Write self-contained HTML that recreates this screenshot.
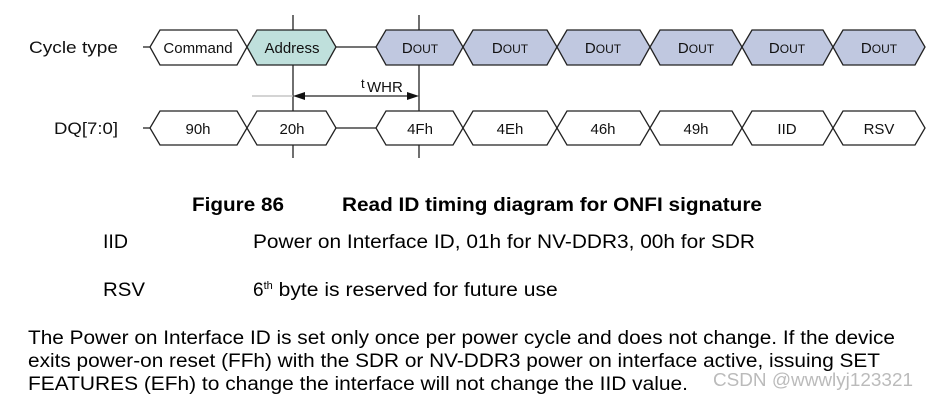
<!DOCTYPE html>
<html><head><meta charset="utf-8"><style>body{margin:0;background:#fff}svg{display:block}</style></head><body>
<svg width="926" height="400" xmlns="http://www.w3.org/2000/svg" font-family="Liberation Sans, sans-serif">
<g stroke="#222" stroke-width="1.3" fill="none">
<line x1="293" y1="15" x2="293" y2="158"/>
<line x1="419" y1="15" x2="419" y2="158"/>
<line x1="143" y1="47" x2="150" y2="47"/>
<line x1="336" y1="47" x2="376" y2="47"/>
<line x1="143" y1="128" x2="150" y2="128"/>
<line x1="336" y1="128" x2="376" y2="128"/>
<line x1="252" y1="96" x2="293" y2="96" stroke="#bbb"/>
<line x1="300" y1="96" x2="412" y2="96"/>
</g>
<polygon points="293,96 305,92 305,100" fill="#111"/>
<polygon points="419,96 407,92 407,100" fill="#111"/>
<text x="361" y="88" font-size="13" fill="#111">t</text><text x="367" y="92" font-size="15" fill="#111">WHR</text>
<g stroke="#222" stroke-width="1.3">
<polygon points="150,47 160,30 237,30 247,47 237,65 160,65" fill="#fff"/>
<polygon points="247,47 257,30 326,30 336,47 326,65 257,65" fill="#bfe0dc"/>
<polygon points="376,47 386,30 453,30 463,47 453,65 386,65" fill="#c0c8e0"/>
<polygon points="463,47 473,30 547,30 557,47 547,65 473,65" fill="#c0c8e0"/>
<polygon points="557,47 567,30 640,30 650,47 640,65 567,65" fill="#c0c8e0"/>
<polygon points="650,47 660,30 732,30 742,47 732,65 660,65" fill="#c0c8e0"/>
<polygon points="742,47 752,30 823,30 833,47 823,65 752,65" fill="#c0c8e0"/>
<polygon points="833,47 843,30 915,30 925,47 915,65 843,65" fill="#c0c8e0"/>
<polygon points="150,128 160,111 237,111 247,128 237,145 160,145" fill="#fff"/>
<polygon points="247,128 257,111 326,111 336,128 326,145 257,145" fill="#fff"/>
<polygon points="376,128 386,111 453,111 463,128 453,145 386,145" fill="#fff"/>
<polygon points="463,128 473,111 547,111 557,128 547,145 473,145" fill="#fff"/>
<polygon points="557,128 567,111 640,111 650,128 640,145 567,145" fill="#fff"/>
<polygon points="650,128 660,111 732,111 742,128 732,145 660,145" fill="#fff"/>
<polygon points="742,128 752,111 823,111 833,128 823,145 752,145" fill="#fff"/>
<polygon points="833,128 843,111 915,111 925,128 915,145 843,145" fill="#fff"/>
</g>
<g font-size="15" fill="#111" text-anchor="middle">
<text x="198" y="53">Command</text><text x="292" y="53">Address</text>
<text x="420" y="53">D<tspan font-size="12">OUT</tspan></text>
<text x="510" y="53">D<tspan font-size="12">OUT</tspan></text>
<text x="603" y="53">D<tspan font-size="12">OUT</tspan></text>
<text x="696" y="53">D<tspan font-size="12">OUT</tspan></text>
<text x="787" y="53">D<tspan font-size="12">OUT</tspan></text>
<text x="879" y="53">D<tspan font-size="12">OUT</tspan></text>
<text x="198" y="134">90h</text><text x="292" y="134">20h</text><text x="420" y="134">4Fh</text>
<text x="510" y="134">4Eh</text><text x="603" y="134">46h</text><text x="696" y="134">49h</text>
<text x="787" y="134">IID</text><text x="879" y="134">RSV</text>
</g>
<g font-size="17" fill="#111">
<text x="29" y="53" textLength="89" lengthAdjust="spacingAndGlyphs">Cycle type</text>
<text x="54" y="134" textLength="64" lengthAdjust="spacingAndGlyphs">DQ[7:0]</text>
</g>
<g font-size="19" fill="#000">
<text x="192" y="211" font-weight="bold" textLength="92" lengthAdjust="spacingAndGlyphs">Figure 86</text>
<text x="342" y="211" font-weight="bold" textLength="420" lengthAdjust="spacingAndGlyphs">Read ID timing diagram for ONFI signature</text>
<text x="103" y="248" textLength="25" lengthAdjust="spacingAndGlyphs">IID</text>
<text x="253" y="248" textLength="502" lengthAdjust="spacingAndGlyphs">Power on Interface ID, 01h for NV-DDR3, 00h for SDR</text>
<text x="103" y="296" textLength="42" lengthAdjust="spacingAndGlyphs">RSV</text>
<text x="253" y="296">6<tspan font-size="11" dy="-7">th</tspan><tspan dy="7" textLength="285" lengthAdjust="spacingAndGlyphs"> byte is reserved for future use</tspan></text>
<text x="28" y="344" textLength="867" lengthAdjust="spacingAndGlyphs">The Power on Interface ID is set only once per power cycle and does not change. If the device</text>
<text x="28" y="367" textLength="852" lengthAdjust="spacingAndGlyphs">exits power-on reset (FFh) with the SDR or NV-DDR3 power on interface active, issuing SET</text>
<text x="28" y="390" textLength="660" lengthAdjust="spacingAndGlyphs">FEATURES (EFh) to change the interface will not change the IID value.</text>
</g>
<text x="713" y="386" font-size="18" fill="#bbb" textLength="200" lengthAdjust="spacingAndGlyphs">CSDN @wwwlyj123321</text>
</svg>
</body></html>
